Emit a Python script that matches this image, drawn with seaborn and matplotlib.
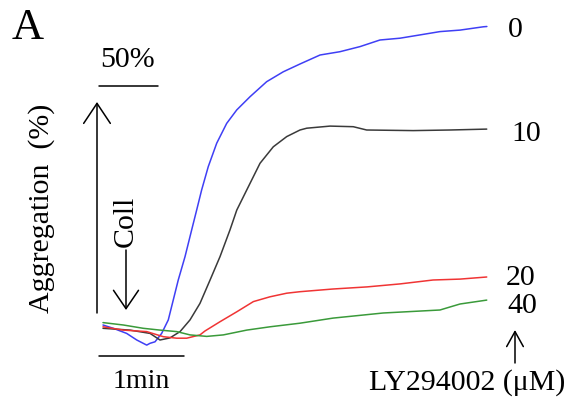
import matplotlib
matplotlib.use("Agg")
import matplotlib.pyplot as plt
import numpy as np
import pandas as pd
import seaborn as sns

# ---- data: time after start (s) and aggregation (%) for each LY294002 dose (uM)
time_0 = [0, 7.4, 17.1, 24.4, 31.6, 34.0, 37.6, 42.4, 47.2, 54.4, 59.3, 64.1, 67.7,
          71.3, 76.1, 82.2, 89.4, 96.7, 106.3, 118.3, 130.3, 142.4, 156.9, 171.3,
          185.8, 200.2, 214.7, 229.2, 243.6, 258.1, 274.9, 277.5]
agg_0 = [0, -1.1, -2.8, -5.0, -6.7, -6.1, -5.6, -2.8, 1.7, 15.0, 22.8, 31.7, 38.3,
         45.0, 52.8, 60.6, 67.2, 71.7, 76.1, 81.1, 84.4, 87.0, 90.0, 91.1,
         92.8, 95.0, 95.6, 96.7, 97.8, 98.3, 99.4, 99.5]

time_10 = [0, 19.5, 34.0, 41.2, 48.4, 55.7, 62.9, 70.1, 77.4, 84.6, 91.8, 96.7, 103.9,
           113.5, 123.1, 132.8, 142.4, 147.3, 164.1, 180.9, 190.6, 224.3, 250.8, 277.4]
agg_10 = [-1.1, -1.7, -2.8, -5.0, -4.3, -2.2, 1.7, 7.2, 15.0, 22.8, 31.7, 38.3, 45.0,
          53.9, 59.4, 62.8, 65.0, 65.6, 66.3, 66.1, 65.0, 64.8, 65.0, 65.3]

time_20 = [0, 14.7, 31.6, 43.6, 53.3, 60.5, 70.1, 73.7, 84.6, 96.7, 108.7, 120.7,
           132.8, 142.4, 166.3, 190.9, 214.8, 238.6, 258.1, 277.4]
agg_20 = [-0.6, -1.7, -2.2, -3.9, -4.4, -4.4, -3.3, -2.0, 1.1, 4.4, 7.8, 9.4,
          10.6, 11.1, 12.0, 12.7, 13.7, 15.0, 15.3, 16.0]

time_40 = [0, 14.7, 29.1, 41.2, 53.3, 62.9, 75.0, 87.0, 103.9, 120.7, 142.4, 166.3,
           202.5, 243.6, 250.8, 258.1, 277.4]
agg_40 = [0.8, 0.0, -1.1, -1.7, -2.2, -3.3, -3.8, -3.3, -1.7, -0.6, 0.6, 2.3,
          4.0, 5.0, 6.0, 7.0, 8.3]

doses = ["0", "10", "20", "40"]
dose_unit_label = "LY294002 (\u03bcM)"

df = pd.concat([
    pd.DataFrame({"time": t, "agg": a, "dose": d})
    for t, a, d in [(time_0, agg_0, "0"), (time_10, agg_10, "10"),
                    (time_20, agg_20, "20"), (time_40, agg_40, "40")]
], ignore_index=True)

sns.set_theme(style="white")
plt.rcParams['font.family'] = ['Liberation Serif', 'DejaVu Serif']

W, H = 575, 408
fig = plt.figure(figsize=(5.75, 4.08), dpi=100)
ax = fig.add_axes([0, 0, 1, 1])
X0, PX_PER_S, Y0, PX_PER_PCT = 103, 83 / 60, 325, 3.0
ax.set_xlim(-X0 / PX_PER_S, (W - X0) / PX_PER_S)
ax.set_ylim(-(H - Y0) / PX_PER_PCT, Y0 / PX_PER_PCT)
ax.axis('off')


def P(x, y):
    return ((x - X0) / PX_PER_S, (Y0 - y) / PX_PER_PCT)


palette = {"0": "#3f3ff5", "10": "#3a3a3a", "20": "#f03434", "40": "#3a9a3a"}
sns.lineplot(data=df, x="time", y="agg", hue="dose", hue_order=doses, palette=palette,
             estimator=None, legend=False, linewidth=1.1, ax=ax)

k = 'black'
fs = 21.5
ax.text(*P(12, 28), "A", fontsize=32, ha='left', va='center', color=k)

# 50% scale bar
ax.text(*P(128, 60), "50%", fontsize=fs, ha='center', va='center', color=k)
ax.plot(*zip(P(99, 86), P(158, 86)), color=k, lw=1.1)

# vertical arrow and label
ax.annotate("", xy=P(97, 102), xytext=P(97, 313),
            arrowprops=dict(arrowstyle='->,head_length=1.2,head_width=0.8', lw=1.1,
                            color=k, shrinkA=0, shrinkB=0))
ax.text(*P(42, 208), "Aggregation  (%)", fontsize=fs, rotation=90,
        ha='center', va='center', color=k)

# collagen arrow
ax.annotate("", xy=P(126, 310), xytext=P(126, 250),
            arrowprops=dict(arrowstyle='->,head_length=1.1,head_width=0.75', lw=1.1,
                            color=k, shrinkA=0, shrinkB=0))
ax.text(*P(126, 221), "Coll", fontsize=fs, rotation=90, ha='center', va='center', color=k)

# time scale bar
ax.plot(*zip(P(99, 356), P(184, 356)), color=k, lw=1.1)
ax.text(*P(141, 381), "1min", fontsize=20, ha='center', va='center', color=k)

# dose labels
label_pos = {"0": (508, 30), "10": (511, 134), "20": (506, 278), "40": (507, 306)}
for d in doses:
    ax.text(*P(*label_pos[d]), d, fontsize=fs, ha='left', va='center', color=k)

ax.annotate("", xy=P(515, 330), xytext=P(515, 363),
            arrowprops=dict(arrowstyle='->,head_length=0.9,head_width=0.5', lw=1.1,
                            color=k, shrinkA=0, shrinkB=0))
ax.text(*P(467, 383), dose_unit_label, fontsize=fs, ha='center', va='center', color=k)

fig.savefig("out.png", dpi=100)
